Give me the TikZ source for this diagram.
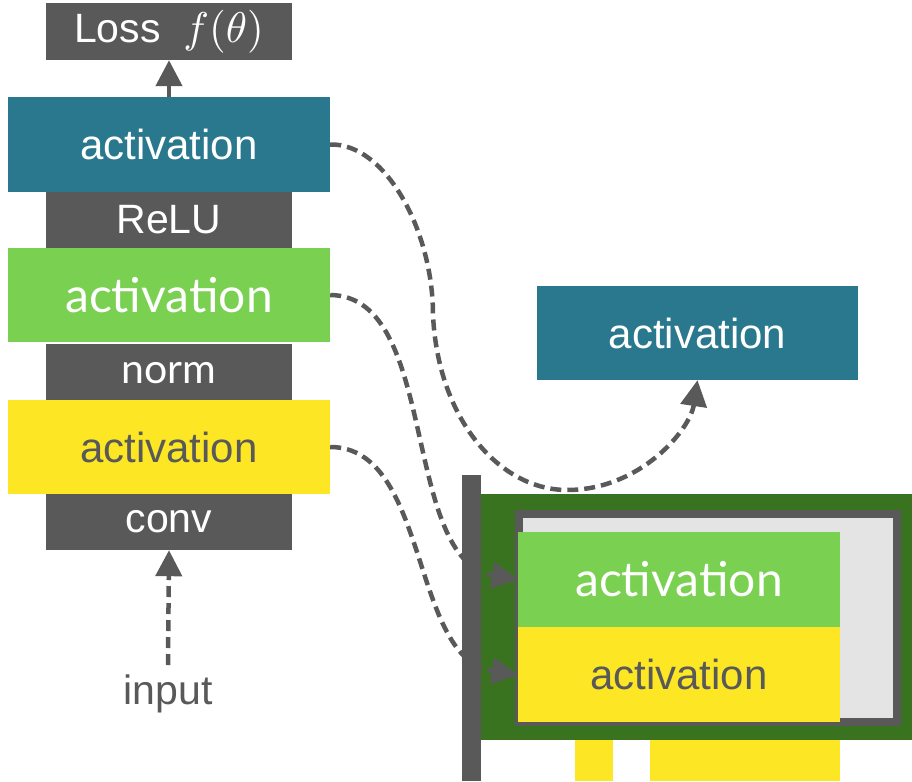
\documentclass[tikz,border=0pt]{standalone}
\usepackage{graphicx}
\usepackage{fontspec}
\setmainfont{Liberation Sans}
\newfontfamily\lato{Lato}
\usetikzlibrary{arrows.meta}
\definecolor{tealc}{HTML}{2A788E}
\definecolor{greenc}{HTML}{7AD151}
\definecolor{yellowc}{HTML}{FDE725}
\definecolor{grayc}{HTML}{595959}
\definecolor{darkgreen}{HTML}{3A7320}
\definecolor{lightgrayc}{HTML}{E4E4E4}
\newcommand{\lossfn}{\scalebox{4.3}{\fontsize{10}{12}\selectfont$f(\theta)$}}
\tikzset{
  layer/.style={rectangle, inner sep=0pt, minimum width=322pt, minimum height=95pt, text=white, font=\fontsize{42}{48}\selectfont},
  oplayer/.style={rectangle, inner sep=0pt, minimum width=246pt, minimum height=57pt, fill=grayc, text=white, font=\fontsize{41}{46}\selectfont},
  flow/.style={grayc, line width=4.5pt, dash pattern=on 11pt off 6pt, -{Triangle[length=26pt,width=26pt]}},
}
\begin{document}
\begin{tikzpicture}[x=1pt,y=-1pt]
\useasboundingbox (0,0) rectangle (912,781);

% layer stack
\node[oplayer] (loss) at (169,31.5) {Loss\ \ \lossfn};
\node[layer, fill=tealc] (a3) at (169,144.5) {activation};
\node[oplayer, minimum height=56pt] (relu) at (169,220) {ReLU};
\node[layer, fill=greenc, minimum height=94pt, font=\lato\fontsize{48}{54}\selectfont] (a2) at (169,295) {activation};
\node[oplayer, minimum height=58pt, font=\lato\fontsize{41}{46}\selectfont] (norm) at (169,373) {norm};
\node[layer, fill=yellowc, minimum height=94pt, text=grayc] (a1) at (169,447) {activation};
\node[oplayer, minimum height=56pt] (conv) at (169,522) {conv};
\node[text=grayc, font=\fontsize{41}{46}\selectfont, inner sep=0pt] (input) at (168,694) {input};
\coordinate (inputtop) at (168,665);

% stored activation
\node[layer, fill=tealc, minimum width=321pt, minimum height=94pt] (r3) at (697.5,333) {activation};

% memory device
\fill[grayc] (462,475) rectangle (481,781);
\fill[darkgreen] (481,494) rectangle (912,740);
\draw[grayc, line width=8pt, fill=lightgrayc] (519,514) rectangle (896.5,721.5);
\node[layer, fill=greenc, font=\lato\fontsize{48}{54}\selectfont] (r2) at (679,579.5) {activation};
\node[layer, fill=yellowc, text=grayc] (r1) at (679,674.5) {activation};
\fill[yellowc] (575,740) rectangle (613,781);
\fill[yellowc] (650,740) rectangle (840,781);

% connectors
\draw[flow] (a3.north) -- (loss.south);
\draw[flow] (inputtop) -- (conv.south);
\coordinate (mid) at (433,315);
\coordinate (low) at (567,490);
\draw[flow] (a3.east) .. controls (385,143) and (433,230) .. (mid)
  .. controls (438,420) and (500,490) .. (low)
  .. controls (640,490) and (690,430) .. (r3.south);
\draw[flow] (a2.east) .. controls (440,296) and (400,560) .. (r2.west);
\draw[flow] (a1.east) .. controls (430,447) and (410,660) .. (r1.west);
\end{tikzpicture}
\end{document}
